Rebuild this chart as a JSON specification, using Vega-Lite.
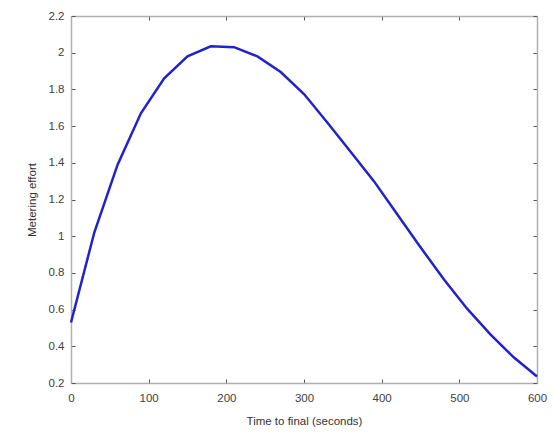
{
  "$schema": "https://vega.github.io/schema/vega-lite/v6.json",
  "width": 466,
  "height": 367,
  "autosize": {"type": "none"},
  "padding": {"left": 71, "top": 16, "right": 17, "bottom": 49},
  "background": "white",
  "config": {
    "view": {"stroke": null},
    "font": "Liberation Sans",
    "axis": {
      "grid": false,
      "domainColor": "#b0b0b0",
      "domainWidth": 1.5,
      "tickColor": "#555555",
      "tickSize": -4,
      "labelColor": "#404040",
      "labelFont": "Liberation Sans",
      "labelFontSize": 11.5,
      "titleFont": "Liberation Sans",
      "titleFontSize": 11.5,
      "titleFontWeight": "normal",
      "titleColor": "#333333"
    }
  },
  "data": {
    "values": [
      {"t": 0, "e": 0.53},
      {"t": 30, "e": 1.02},
      {"t": 60, "e": 1.39},
      {"t": 90, "e": 1.67},
      {"t": 120, "e": 1.86},
      {"t": 150, "e": 1.98},
      {"t": 180, "e": 2.035},
      {"t": 210, "e": 2.03},
      {"t": 240, "e": 1.98},
      {"t": 270, "e": 1.895},
      {"t": 300, "e": 1.775},
      {"t": 330, "e": 1.62},
      {"t": 360, "e": 1.46},
      {"t": 390, "e": 1.3},
      {"t": 420, "e": 1.12},
      {"t": 450, "e": 0.94},
      {"t": 480, "e": 0.765},
      {"t": 510, "e": 0.605},
      {"t": 540, "e": 0.465},
      {"t": 570, "e": 0.34},
      {"t": 600, "e": 0.235}
    ]
  },
  "layer": [
    {
      "mark": {"type": "line", "color": "#2222cc", "strokeWidth": 2.5},
      "encoding": {
        "x": {
          "field": "t", "type": "quantitative",
          "scale": {"domain": [0, 600], "nice": false, "zero": false},
          "axis": {"title": "Time to final (seconds)", "format": "d", "values": [0, 100, 200, 300, 400, 500, 600], "labelPadding": 13, "titlePadding": 12, "labelFlush": false}
        },
        "y": {
          "field": "e", "type": "quantitative",
          "scale": {"domain": [0.2, 2.2], "nice": false, "zero": false},
          "axis": {"title": "Metering effort", "format": "~g", "values": [0.2, 0.4, 0.6, 0.8, 1, 1.2, 1.4, 1.6, 1.8, 2, 2.2], "labelPadding": 11, "titlePadding": 11, "labelFlush": false}
        }
      }
    },
    {
      "mark": {"type": "line", "opacity": 0},
      "encoding": {
        "x": {
          "field": "t", "type": "quantitative",
          "scale": {"domain": [0, 600], "nice": false, "zero": false},
          "axis": {"orient": "top", "title": null, "labels": false, "values": [0, 100, 200, 300, 400, 500, 600]}
        },
        "y": {
          "field": "e", "type": "quantitative",
          "scale": {"domain": [0.2, 2.2], "nice": false, "zero": false},
          "axis": {"orient": "right", "title": null, "labels": false, "values": [0.2, 0.4, 0.6, 0.8, 1, 1.2, 1.4, 1.6, 1.8, 2, 2.2]}
        }
      }
    }
  ],
  "resolve": {"axis": {"x": "independent", "y": "independent"}}
}
